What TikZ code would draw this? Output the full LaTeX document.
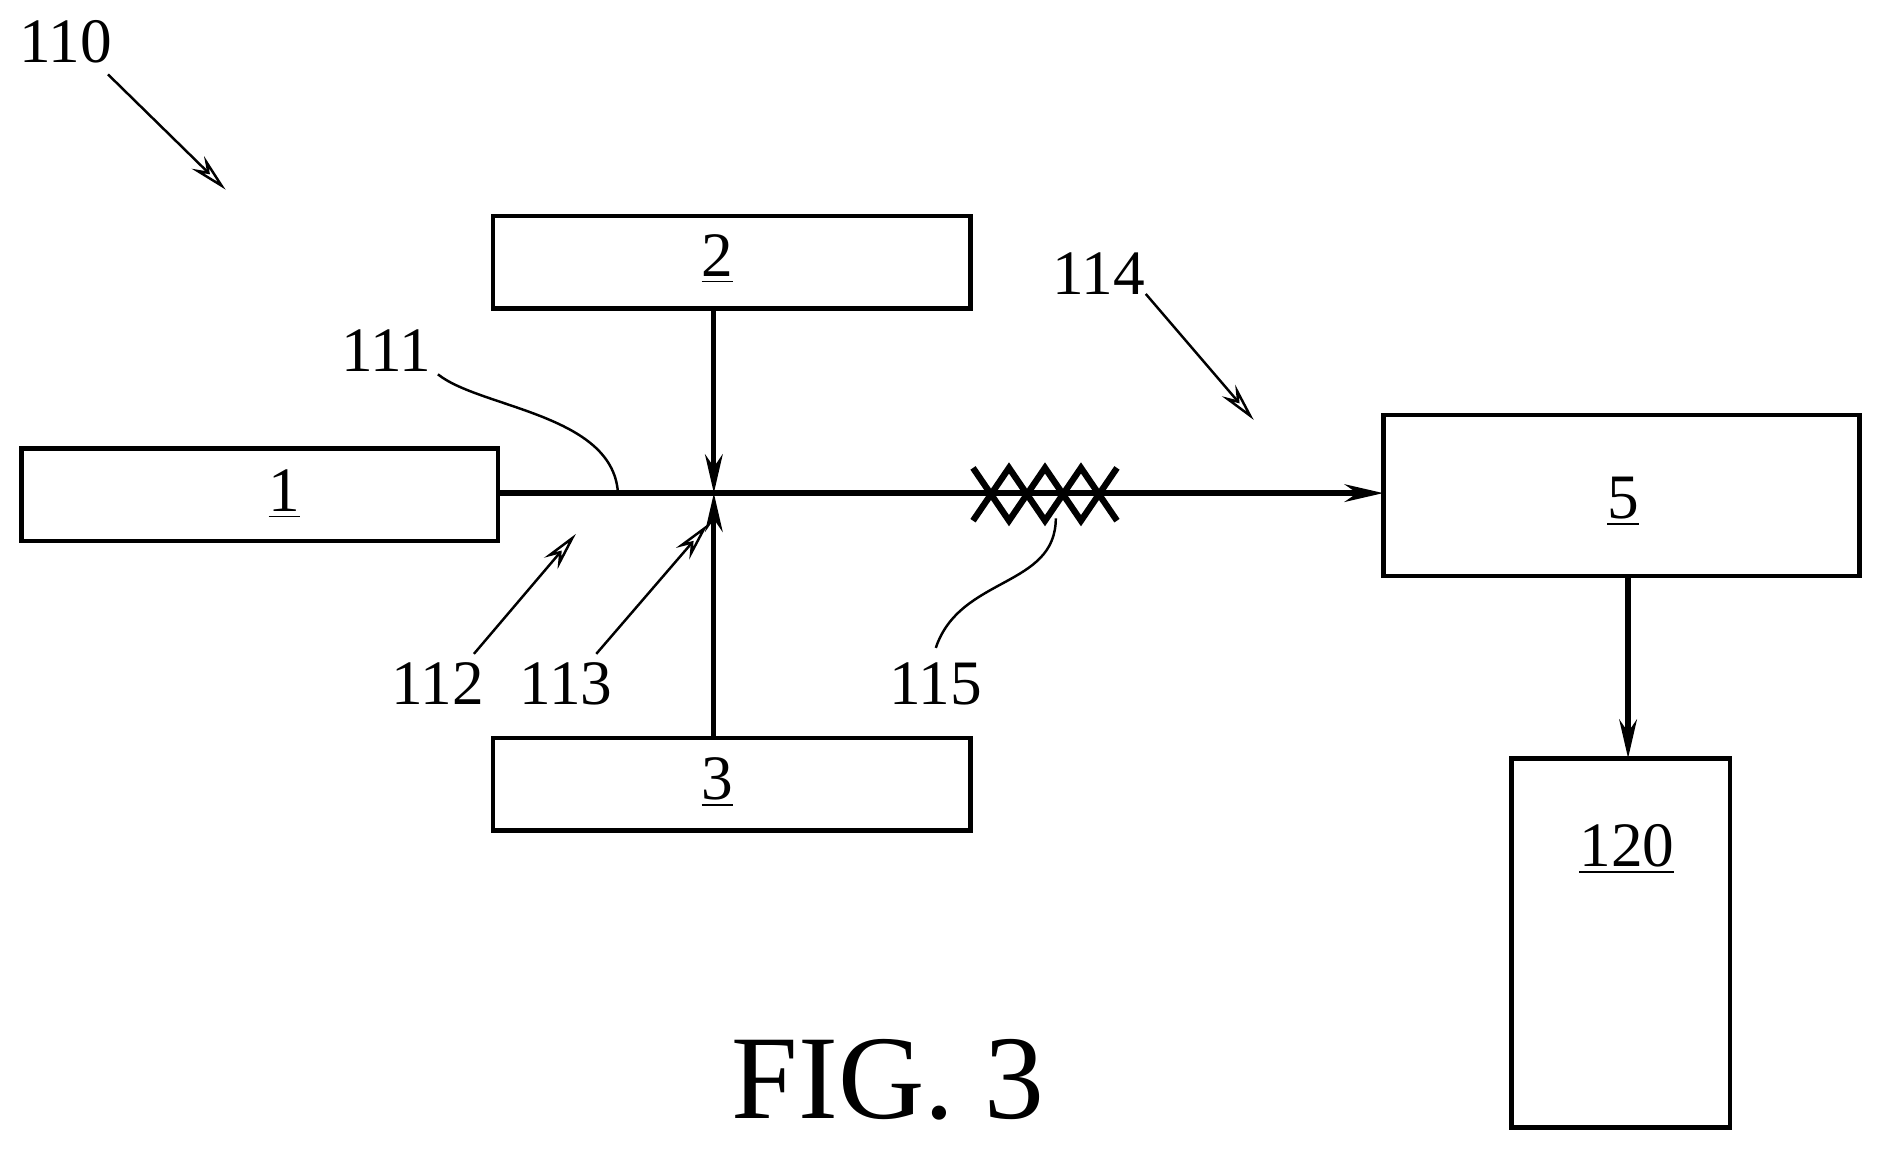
\documentclass[tikz,border=0pt]{standalone}
\usepackage{fontspec}
\setmainfont{Liberation Serif}
\usetikzlibrary{arrows.meta}

\tikzset{
  box/.style={line width=1.3pt},
  flow/.style={line width=1.5pt, -{Stealth[length=11pt, width=5pt]}},
  lead/.style={line width=0.7pt, -{Stealth[length=11pt, width=5pt, open]}},
  refnum/.style={font=\fontsize{18}{18}\selectfont}
}

\begin{document}
\begin{tikzpicture}[x=0.01200cm, y=-0.01200cm]
  \useasboundingbox (0,0) rectangle (1567,957);

  % boxes
  \draw[box] (18,374) rectangle (415,451);
  \node[refnum] (b1) at (237,412) {\underline{1}};
  \coordinate (b1e) at (415,411);

  \draw[box] (411,180) rectangle (809,257);
  \node[refnum] (b2) at (598,216) {\underline{2}};
  \coordinate (b2s) at (595,257);

  \draw[box] (411,615) rectangle (809,692);
  \node[refnum] (b3) at (598,652) {\underline{3}};
  \coordinate (b3n) at (595,615);

  \draw[box] (1153,346) rectangle (1550,480);
  \node[refnum] (b5) at (1353,418) {\underline{5}};
  \coordinate (b5w) at (1153,411);
  \coordinate (b5s) at (1357,480);

  \draw[box] (1260,632) rectangle (1442,940);
  \node[refnum] (b120) at (1356,708) {\underline{120}};
  \coordinate (b120n) at (1357,632);

  % flows
  \coordinate (x) at (595,411);
  \draw[flow] (b1e) -- (b5w);
  \draw[flow] (b2s) -- (x);
  \draw[flow] (b3n) -- (x);
  \draw[flow] (b5s) -- (b120n);

  % mixer
  \draw[line width=1.8pt] (811,390) -- (841,434) -- (871,390) -- (901,434) -- (931,390);
  \draw[line width=1.8pt] (811,434) -- (841,390) -- (871,434) -- (901,390) -- (931,434);

  % reference numerals
  \node[refnum] (n110) at (55,35) {110};
  \draw[lead] (90,62) -- (188,158);
  \node[refnum] (n114) at (916,228) {114};
  \draw[lead] (955,245) -- (1045,350);
  \node[refnum] (n111) at (322,292) {111};
  \draw[line width=0.7pt] (365,312) .. controls (400,340) and (510,345) .. (515,410);
  \node[refnum] (n112) at (365,570) {112};
  \draw[lead] (395,545) -- (480,445);
  \node[refnum] (n113) at (472,570) {113};
  \draw[lead] (497,545) -- (590,437);
  \node[refnum] (n115) at (780,570) {115};
  \draw[line width=0.7pt] (780,540) .. controls (800,480) and (880,490) .. (880,432);

  \node[font=\fontsize{34}{34}\selectfont] (fig) at (740,900) {FIG. 3};
\end{tikzpicture}
\end{document}
